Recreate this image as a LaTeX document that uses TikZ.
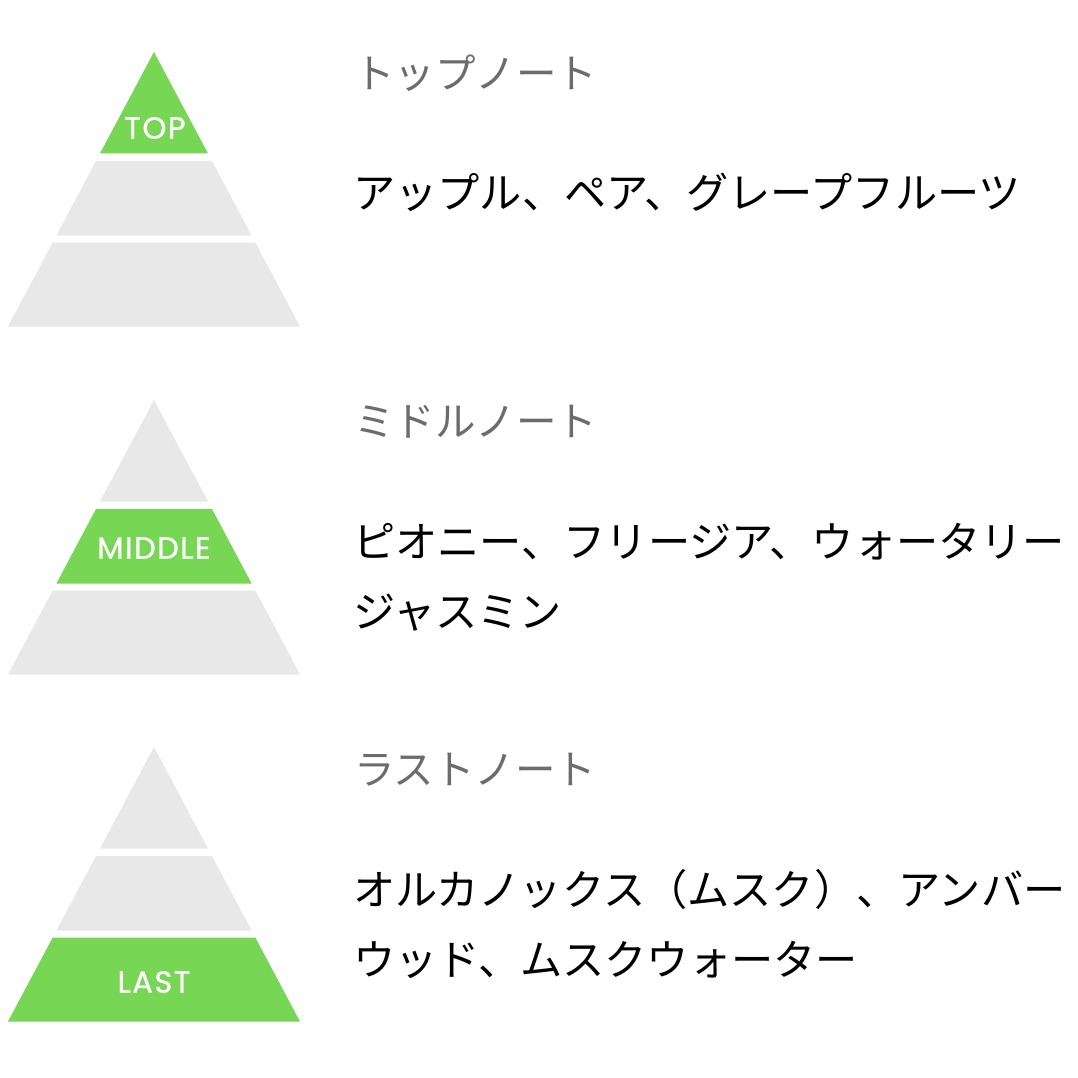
\documentclass[tikz,border=0pt]{standalone}
\usepackage{fontspec}
\newfontfamily\jpfont{Noto Sans CJK JP}
\newfontfamily\lblfont[FakeBold=0.9,LetterSpace=5]{Poppins}
\definecolor{pgreen}{RGB}{119,214,83}
\definecolor{pgrey}{RGB}{232,232,232}
\definecolor{hgrey}{RGB}{108,108,108}
\newcommand\mypyr[3]{%
  \fill[#1] (154,0) -- (208,101.5) -- (100,101.5) -- cycle;
  \fill[#2] (96,109) -- (212,109) -- (251.6,183.5) -- (56.4,183.5) -- cycle;
  \fill[#3] (52.7,190.5) -- (255.3,190.5) -- (300,274.5) -- (8,274.5) -- cycle;}
\begin{document}
\begin{tikzpicture}[x=1pt,y=-1pt,
  lbl/.style={inner sep=0pt,text=white,font=\lblfont\fontsize{30.5}{32}\selectfont},
  head/.style={anchor=base west,inner sep=0pt,text=hgrey,font=\jpfont\fontsize{40.5}{48}\selectfont},
  body/.style={anchor=base west,inner sep=0pt,text=black,font=\jpfont\fontsize{42.2}{50}\selectfont}]
\fill[white] (0,0) rectangle (1078,1078);
\useasboundingbox (0,0) rectangle (1078,1078);
\begin{scope}[shift={(0,52)}]\mypyr{pgreen}{pgrey}{pgrey}\end{scope}
\begin{scope}[shift={(0,400)}]\mypyr{pgrey}{pgreen}{pgrey}\end{scope}
\begin{scope}[shift={(0,747)}]\mypyr{pgrey}{pgrey}{pgreen}\end{scope}
\node[lbl] (ltop) at (155,128) {TOP};
\node[lbl] (lmid) at (154,548) {MIDDLE};
\node[lbl] (llast) at (154,982) {LAST};
\node[head] (h1) at (354,89) {トップノート};
\node[body] (b1) at (353,208.6) {アップル、ペア、グレープフルーツ};
\node[head] (h2) at (354,436.5) {ミドルノート};
\node[body] (b2a) at (353,557) {ピオニー、フリージア、ウォータリー};
\node[body] (b2b) at (353,627.5) {ジャスミン};
\node[head] (h3) at (354,784.5) {ラストノート};
\node[body] (b3a) at (353,905) {オルカノックス（ムスク）、アンバー};
\node[body] (b3b) at (353,975.5) {ウッド、ムスクウォーター};
\end{tikzpicture}
\end{document}
